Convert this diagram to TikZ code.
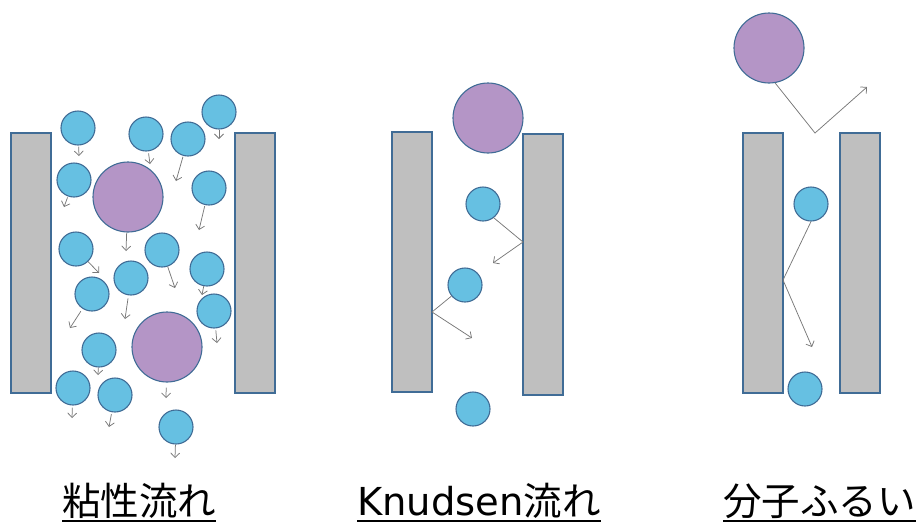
\documentclass[tikz,border=0pt]{standalone}
\usepackage{fontspec}
\newfontfamily\cjk{Noto Sans CJK JP}
\newfontfamily\lat{DejaVu Sans}
\usetikzlibrary{arrows.meta}
\definecolor{molblue}{RGB}{102,192,226}
\definecolor{molpurple}{RGB}{180,149,198}
\definecolor{edgeblue}{RGB}{64,108,150}
\definecolor{wallgray}{RGB}{191,191,191}
\definecolor{pathgray}{RGB}{120,120,120}
\tikzset{
  small mol/.style={circle, fill=molblue, draw=edgeblue, line width=1.1pt,
    minimum size=34pt, inner sep=0pt},
  big mol/.style={circle, fill=molpurple, draw=edgeblue, line width=1.1pt,
    minimum size=70pt, inner sep=0pt},
  wall/.style={fill=wallgray, draw=edgeblue, line width=1.1pt},
  move/.style={draw=pathgray, line width=0.75pt,
    -{Straight Barb[length=4.5pt,width=9pt]}},
  label/.style={inner sep=0pt, anchor=base west, font=\fontsize{38.5}{42}\selectfont},
  rule/.style={line width=1.6pt, black},
}
\begin{document}
\begin{tikzpicture}[x=1pt, y=-1pt]
\useasboundingbox (0,0) rectangle (920,523);

% ---------- viscous flow ----------
\draw[wall] (11,133) rectangle (51,393);
\draw[wall] (235,133) rectangle (275,393);

\node[small mol] (v1)  at (78,128) {};
\node[small mol] (v2)  at (146,134) {};
\node[small mol] (v3)  at (188,139) {};
\node[small mol] (v4)  at (219,112) {};
\node[small mol] (v5)  at (74,180) {};
\node[big mol]   (v6)  at (128,197) {};
\node[small mol] (v7)  at (209,188) {};
\node[small mol] (v8)  at (76,249) {};
\node[small mol] (v9)  at (162,250) {};
\node[small mol] (v10) at (207,269) {};
\node[small mol] (v11) at (92,294) {};
\node[small mol] (v12) at (131,278) {};
\node[small mol] (v13) at (214,311) {};
\node[big mol]   (v14) at (167,347) {};
\node[small mol] (v15) at (99,350) {};
\node[small mol] (v16) at (73,388) {};
\node[small mol] (v17) at (115,395) {};
\node[small mol] (v18) at (176,427) {};

\coordinate (e1)  at (79,156);
\coordinate (e2)  at (150,164);
\coordinate (e3)  at (176,181);
\coordinate (e4)  at (219,139);
\coordinate (e5)  at (64,207);
\coordinate (e6)  at (126,251);
\coordinate (e7)  at (199,230);
\coordinate (e8)  at (99,273);
\coordinate (e9)  at (175,288);
\coordinate (e10) at (202,295);
\coordinate (e11) at (70,328);
\coordinate (e12) at (125,319);
\coordinate (e13) at (217,343);
\coordinate (e14) at (166,398);
\coordinate (e15) at (98,375);
\coordinate (e16) at (72,418);
\coordinate (e17) at (109,427);
\coordinate (e18) at (175,458);

\draw[move, shorten <=1pt] (v1) -- (e1);
\draw[move, shorten <=2pt] (v2) -- (e2);
\draw[move, shorten <=1pt] (v3) -- (e3);
\draw[move] (v4) -- (e4);
\draw[move, shorten <=1pt] (v5) -- (e5);
\draw[move] (v6) -- (e6);
\draw[move, shorten <=1pt] (v7) -- (e7);
\draw[move] (v8) -- (e8);
\draw[move] (v9) -- (e9);
\draw[move] (v10) -- (e10);
\draw[move, shorten <=3pt] (v11) -- (e11);
\draw[move, shorten <=3pt] (v12) -- (e12);
\draw[move, shorten <=2pt] (v13) -- (e13);
\draw[move, shorten <=5pt] (v14) -- (e14);
\draw[move] (v15) -- (e15);
\draw[move, shorten <=2pt] (v16) -- (e16);
\draw[move, shorten <=2pt] (v17) -- (e17);
\draw[move] (v18) -- (e18);

% ---------- Knudsen flow ----------
\draw[wall] (392,132) rectangle (432,392);
\draw[wall] (523,134) rectangle (563,395);

\node[big mol]   (k0) at (488,118) {};
\node[small mol] (k1) at (483,204) {};
\node[small mol] (k2) at (465,285) {};
\node[small mol] (k3) at (473,409) {};

\coordinate (k1hit) at (523,242);
\coordinate (k1end) at (493,263);
\coordinate (k2hit) at (432,312);
\coordinate (k2end) at (472,338);

\draw[move] (k1.-52) -- (k1hit) -- (k1end);
\draw[move] (k2) -- (k2hit) -- (k2end);

% ---------- molecular sieving ----------
\draw[wall] (743,133) rectangle (783,393);
\draw[wall] (840,133) rectangle (880,393);

\node[big mol]   (s0) at (769,48) {};
\node[small mol] (s1) at (811,204) {};
\node[small mol] (s2) at (805,389) {};

\coordinate (s0hit) at (815,133);
\coordinate (s0end) at (867,87);
\coordinate (s1hit) at (783,280);
\coordinate (s1end) at (812,347);

\draw[move] (s0.280) -- (s0hit) -- (s0end);
\draw[move] (s1.south) -- (s1hit) -- (s1end);

% ---------- captions ----------
\node[label] (t1) at (62,515) {\cjk 粘性流れ};
\node[label] (t2) at (357,515) {\lat Knudsen\cjk 流れ};
\node[label] (t3) at (723,515) {\cjk 分子ふるい};
\draw[rule] ([yshift=-6pt]t1.base west) -- ([yshift=-6pt]t1.base east);
\draw[rule] ([yshift=-6pt]t2.base west) -- ([yshift=-6pt]t2.base east);
\draw[rule] ([yshift=-6pt]t3.base west) -- ([yshift=-6pt]t3.base east);
\end{tikzpicture}
\end{document}
